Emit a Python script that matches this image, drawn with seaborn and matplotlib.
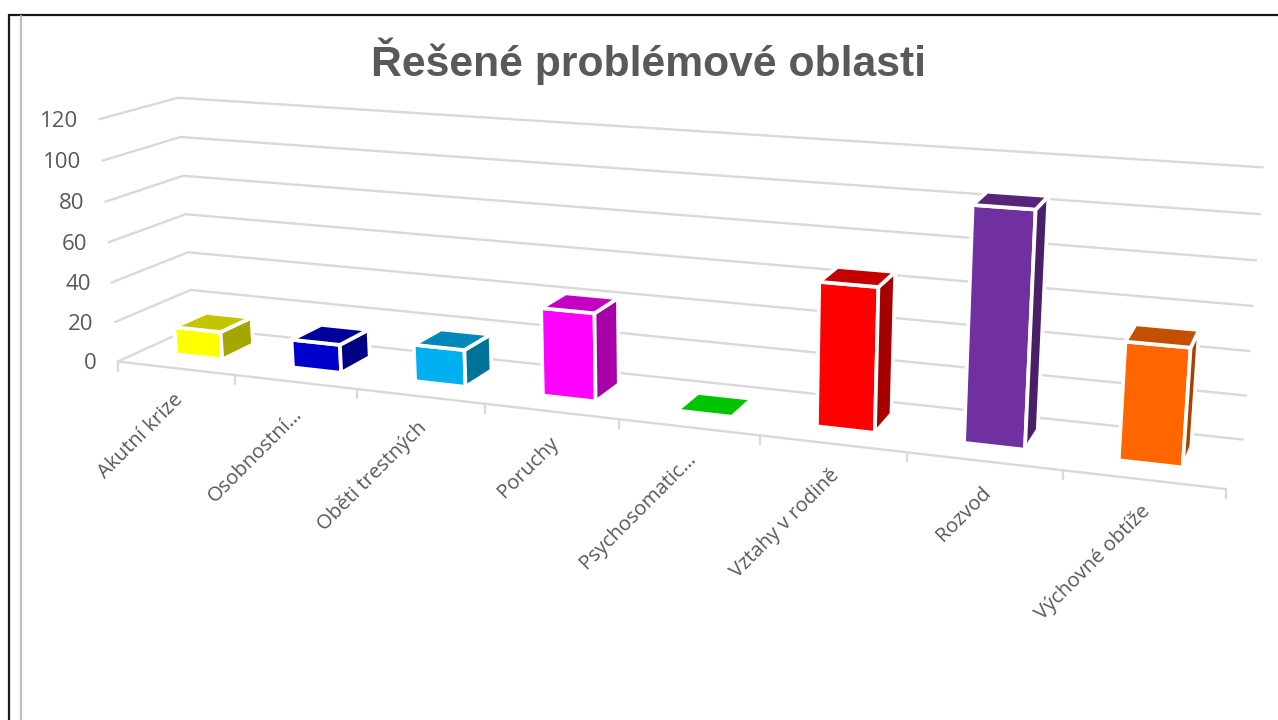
import numpy as np
import pandas as pd
import seaborn as sns
import matplotlib.pyplot as plt

categories = ["Akutní krize", "Osobnostní…", "Oběti trestných", "Poruchy",
              "Psychosomatic…", "Vztahy v rodině", "Rozvod", "Výchovné obtíže"]
values = [14, 14, 18, 42, 0, 66, 105, 52]
colors = ["#FFFF00", "#0000CC", "#00B0F0", "#FF00FF", "#00FF00", "#FF0000", "#7030A0", "#FF6600"]
y_ticks = [0, 20, 40, 60, 80, 100, 120]
title = "Řešené problémové oblasti"

grid_color = "#D9D9D9"
text_color = "#595959"

# camera of the fake 3d box: (category, value, depth) -> pixel
box_points = [(0, 0, 0), (0, 120, 0), (0, 0, 1), (0, 60, 1), (0, 120, 1),
              (8, 0, 0), (8, 0, 1), (8, 60, 1), (8, 120, 1)]
box_pixels = [(118, 361), (99, 119), (193, 328), (185.5, 214), (178, 98),
              (1226, 490), (1243, 439), (1253, 305), (1263, 168)]
rows = []
for (cx, cv, cz), (px, py) in zip(box_points, box_pixels):
    p = [cx / 8, cv / 120, cz, 1]
    rows.append(p + [0, 0, 0, 0] + [-px * c for c in p])
    rows.append([0, 0, 0, 0] + p + [-py * c for c in p])
cam = np.linalg.svd(np.array(rows))[2][-1].reshape(3, 4)


def project(cx, v, z):
    u = cam @ np.array([cx / 8, v / 120, z, 1])
    return u[0] / u[2], u[1] / u[2]


sns.set_theme(style="white")
fig = plt.figure(figsize=(12.78, 7.2), dpi=100)
ax = fig.add_axes([0, 0, 1, 1])

# gridlines through seaborn
lines = []
for v in y_ticks:
    for n, (cx, z) in enumerate([(0, 0), (0, 1), (8, 1)]):
        px, py = project(cx, v, z)
        lines.append({"line": f"g{v}", "n": n, "px": px, "py": py})
for name, a, b in [("floor", (0, 0, 0), (8, 0, 0))]:
    for n, pt in enumerate([a, b]):
        px, py = project(*pt)
        lines.append({"line": name, "n": n, "px": px, "py": py})
for i in range(len(categories) + 1):
    px, py = project(i, 0, 0)
    lines.append({"line": f"t{i}", "n": 0, "px": px, "py": py})
    lines.append({"line": f"t{i}", "n": 1, "px": px, "py": py + 9})
sns.lineplot(data=pd.DataFrame(lines), x="px", y="py", units="line", estimator=None, sort=False,
             color=grid_color, linewidth=1.7, ax=ax, legend=False)

# bars
bar_w = 0.4
z0, z1 = 0.31, 0.74
for i, (val, col) in enumerate(zip(values, sns.color_palette(colors))):
    x0, x1 = i + 0.5 - bar_w / 2, i + 0.5 + bar_w / 2
    col = np.array(col)
    front = [project(x0, 0, z0), project(x1, 0, z0), project(x1, val, z0), project(x0, val, z0)]
    side = [project(x1, 0, z0), project(x1, 0, z1), project(x1, val, z1), project(x1, val, z0)]
    top = [project(x0, val, z0), project(x1, val, z0), project(x1, val, z1), project(x0, val, z1)]
    for face, shade in [(front, 1.0), (side, 0.65), (top, 0.77)]:
        ax.fill(*zip(*face), color=col * shade, ec="white", lw=2.7, joinstyle="miter", zorder=3)

for v in y_ticks:
    px, py = project(0, v, 0)
    ax.text(px - 21, py + 2, str(v), ha="right", va="center", fontsize=16, color=text_color, family="Open Sans")

for i, name in enumerate(categories):
    px, py = project(i + 0.5, 0, 0)
    ax.text(px - 3, py + 22, name, rotation=45, rotation_mode="anchor", ha="right", va="top",
            fontsize=14.6, color=text_color, family="Open Sans")

ax.text(648.5, 61, title, ha="center", va="center", fontsize=30.7, fontweight="bold",
        color=text_color, family="Liberation Sans")

# slide frame
ax.plot([9, 9, 1278], [720, 15, 15], color="#1A1A1A", lw=1.6, solid_joinstyle="miter")
ax.plot([21, 21], [16, 720], color="#BFBFBF", lw=1.6)

ax.set_xlim(0, 1278)
ax.set_ylim(720, 0)
ax.axis("off")
fig.savefig("out.png", dpi=100)
